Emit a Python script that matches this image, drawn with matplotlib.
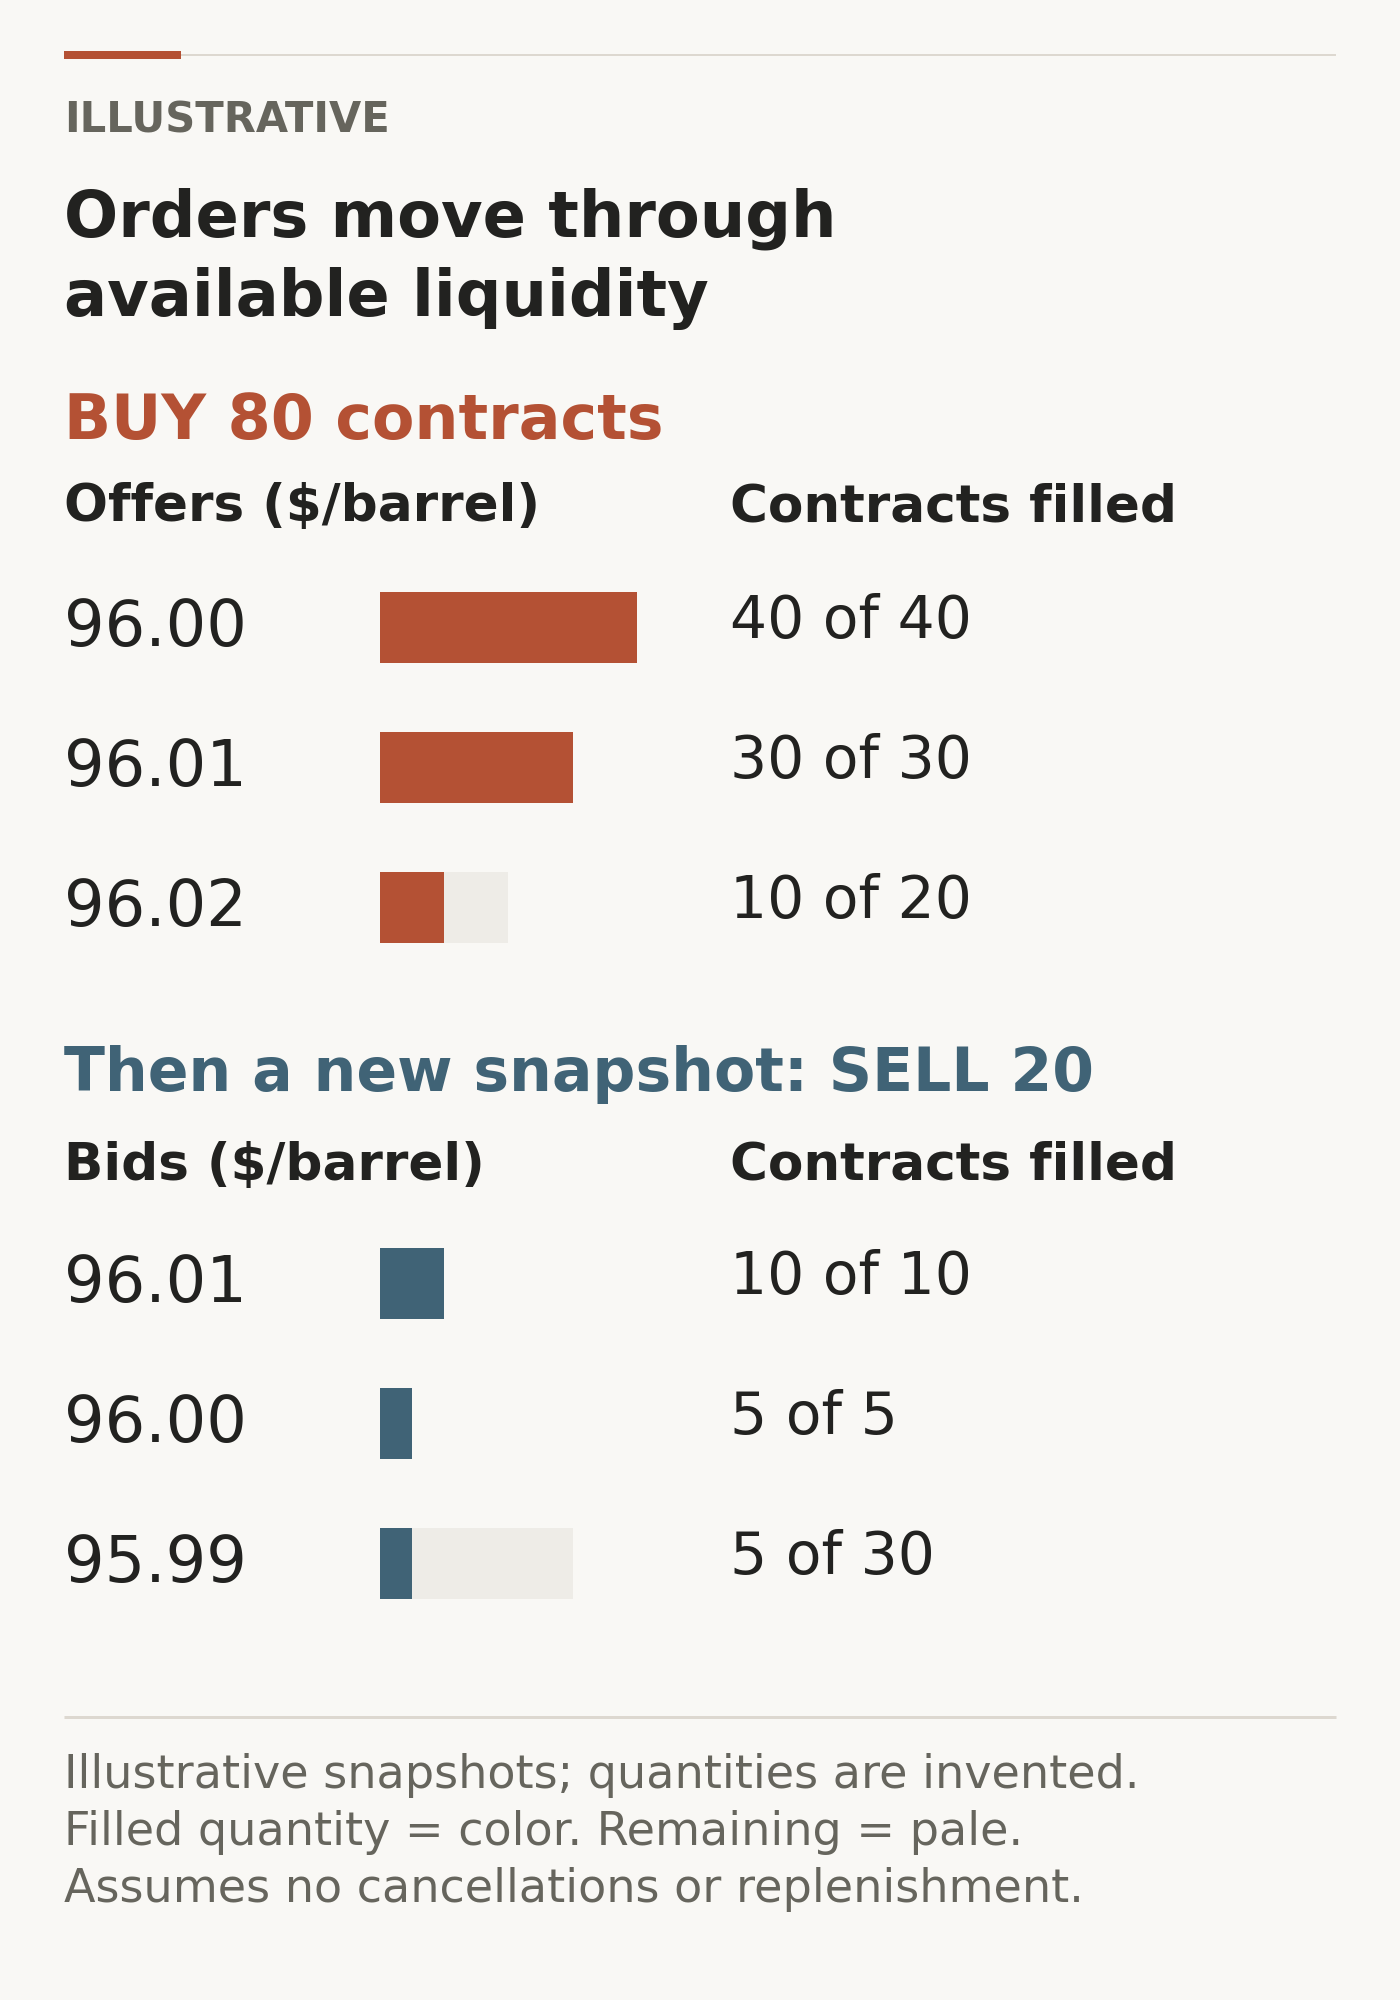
import matplotlib
matplotlib.use("Agg")
import matplotlib.pyplot as plt
import matplotlib.transforms as mtransforms
from matplotlib.lines import Line2D

# ---- data ----
offer_prices = ["96.00", "96.01", "96.02"]
offer_filled = [40, 30, 10]
offer_size = [40, 30, 20]

bid_prices = ["96.01", "96.00", "95.99"]
bid_filled = [10, 5, 5]
bid_size = [10, 5, 30]

eyebrow = "ILLUSTRATIVE"
title_lines = ["Orders move through", "available liquidity"]
buy_heading = "BUY 80 contracts"
sell_heading = "Then a new snapshot: SELL 20"
offer_header = "Offers ($/barrel)"
bid_header = "Bids ($/barrel)"
filled_header = "Contracts filled"
footer_lines = [
    "Illustrative snapshots; quantities are invented.",
    "Filled quantity = color. Remaining = pale.",
    "Assumes no cancellations or replenishment.",
]

# ---- style ----
BG = "#f9f8f5"
RED = "#b45134"
BLUE = "#406376"
PALE = "#eeece7"
RULE = "#ddd8d0"
DARK = "#222220"
GREY = "#66655d"

W, H = 1400, 2000
DPI = 200
fig = plt.figure(figsize=(W / DPI, H / DPI), dpi=DPI, facecolor=BG)
plt.rcParams["font.family"] = ["DejaVu Sans"]


def fx(px):
    return px / W


def fy(py):
    return 1 - py / H


def ftext(x, y, s, **kw):
    fig.text(fx(x), fy(y), s, va="baseline", ha="left", **kw)


LEFT = 64
RIGHT = 1336
COL2 = 730

# top rule
fig.add_artist(Line2D([fx(LEFT), fx(RIGHT)], [fy(55), fy(55)], color=RULE,
                      lw=2 * 72 / DPI, solid_capstyle="butt"))
fig.add_artist(Line2D([fx(LEFT), fx(181)], [fy(55), fy(55)], color=RED,
                      lw=8 * 72 / DPI, solid_capstyle="butt"))

ftext(LEFT, 132, eyebrow, fontsize=15, fontweight="bold", color=GREY)
ftext(LEFT, 237, title_lines[0], fontsize=23, fontweight="bold", color=DARK)
ftext(LEFT, 316, title_lines[1], fontsize=23, fontweight="bold", color=DARK)

PX_PER_UNIT = 6.42
BAR_X0 = 380
AX_WIDTH_PX = 320
ROW_PITCH = 140


def section(heading, heading_color, heading_size, heading_y, header, header_y,
            first_row_y, prices, filled, size, color):
    ftext(LEFT, heading_y, heading, fontsize=heading_size, fontweight="bold",
          color=heading_color)
    ftext(LEFT, header_y, header, fontsize=18.6, fontweight="bold", color=DARK)
    ftext(COL2, header_y, filled_header, fontsize=18.6, fontweight="bold", color=DARK)

    n = len(prices)
    top = first_row_y - ROW_PITCH / 2
    ax = fig.add_axes([fx(BAR_X0), fy(top + n * ROW_PITCH),
                       fx(AX_WIDTH_PX), n * ROW_PITCH / H])
    ax.set_xlim(0, AX_WIDTH_PX / PX_PER_UNIT)
    ax.set_ylim(n - 0.5, -0.5)
    ax.axis("off")
    ax.patch.set_alpha(0)
    rows = list(range(n))
    ax.barh(rows, size, height=0.507, left=0, color=PALE, linewidth=0)
    ax.barh(rows, filled, height=0.507, left=0, color=color, linewidth=0)

    blend = mtransforms.blended_transform_factory(fig.transFigure, ax.transData)
    off_price = mtransforms.ScaledTranslation(0, -18.5 / DPI, fig.dpi_scale_trans)
    off_val = mtransforms.ScaledTranslation(0, -10.5 / DPI, fig.dpi_scale_trans)
    for i, (p, f, s) in enumerate(zip(prices, filled, size)):
        fig.text(fx(LEFT), i, p, transform=blend + off_price, fontsize=23,
                 color=DARK, va="baseline", ha="left")
        fig.text(fx(COL2), i, f"{f} of {s}", transform=blend + off_val,
                 fontsize=21, color=DARK, va="baseline", ha="left")


section(buy_heading, RED, 22.3, 439, offer_header, 521, 627.5,
        offer_prices, offer_filled, offer_size, RED)
section(sell_heading, BLUE, 21.6, 1091, bid_header, 1180, 1283.5,
        bid_prices, bid_filled, bid_size, BLUE)

# footer
fig.add_artist(Line2D([fx(LEFT), fx(RIGHT)], [fy(1717), fy(1717)], color=RULE,
                      lw=3 * 72 / DPI, solid_capstyle="butt"))
for k, line in enumerate(footer_lines):
    ftext(LEFT, 1788 + 57 * k, line, fontsize=16.6, color=GREY)

fig.savefig("out.png", dpi=DPI, facecolor=BG)
